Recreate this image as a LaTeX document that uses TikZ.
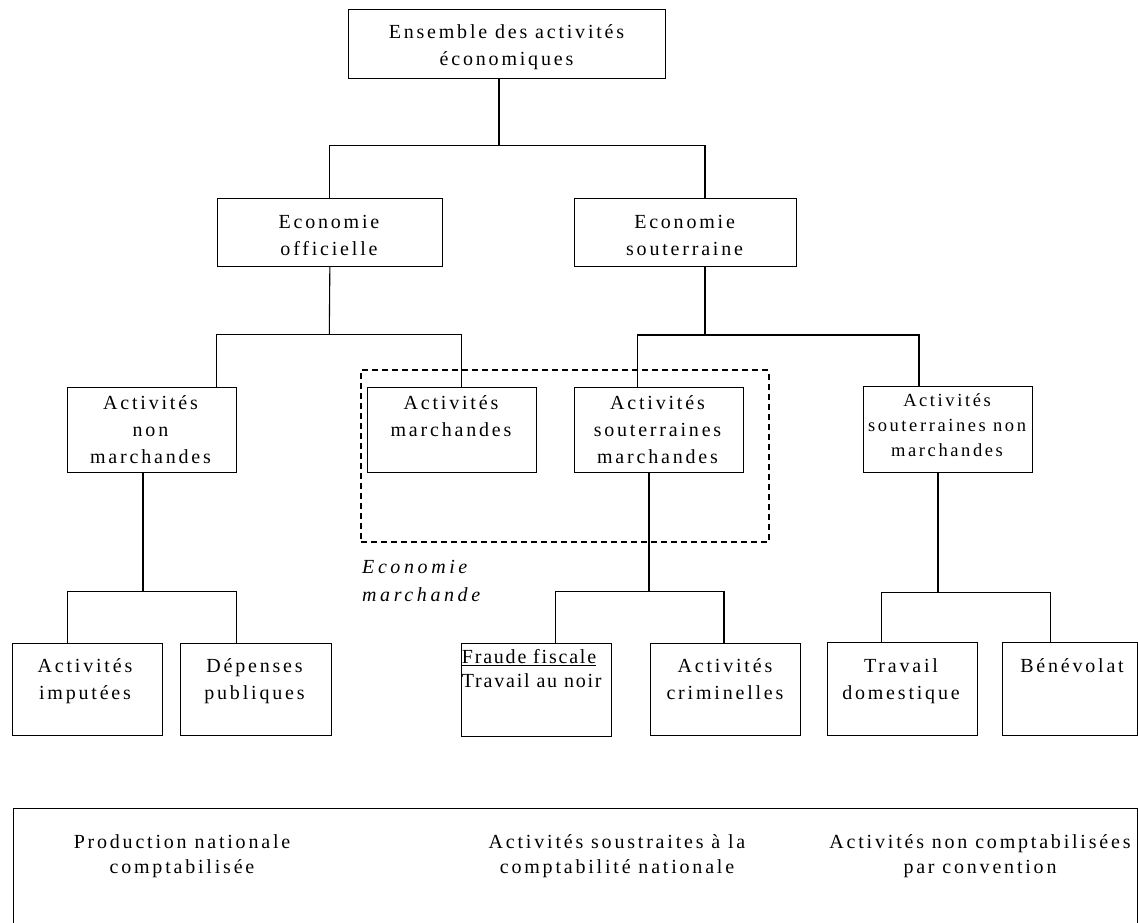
\documentclass[tikz,border=0pt]{standalone}
\usepackage{fontspec}
\setmainfont{Liberation Serif}[LetterSpace=14]
\newfontfamily\tightserif{Liberation Serif}[LetterSpace=9]
\newfontfamily\wideserif{Liberation Serif}[LetterSpace=18]
\newcommand{\tstrut}{\rule{0pt}{20pt}}
% box from corner (x1,y1) to corner (x2,y2), y pointing down
\newcommand{\orgbox}[5]{\node[box, minimum width={#4pt-#2pt}, minimum height={#5pt-#3pt}] (#1) at (#2,#3) {};}
\begin{document}
\begin{tikzpicture}[x=1pt, y=-1pt,
  box/.style={draw, line width=1.1pt, inner sep=0pt, anchor=north west},
  dashbox/.style={draw, line width=1.8pt, dash pattern=on 6pt off 4pt, inner sep=0pt, anchor=north west},
  conn/.style={line width=1.1pt},
  txt/.style={anchor=north, inner sep=0pt, align=center, font=\fontsize{20}{27}\selectfont},
  smalltxt/.style={txt, font=\fontsize{18.5}{25}\selectfont},
  foot/.style={txt, font=\fontsize{20}{25}\selectfont}]
\useasboundingbox (0,0) rectangle (1138,922);
\clip (0,0) rectangle (1138,922);

% boxes
\orgbox{top}{348}{9}{665}{78}
\orgbox{offi}{216.6}{197.7}{442}{266}
\orgbox{sout}{573.6}{197.7}{795.6}{266}
\orgbox{anm}{66.7}{387}{235.7}{472}
\orgbox{am}{366.7}{386.7}{536}{471.7}
\orgbox{asm}{574}{386.7}{742.7}{471.7}
\orgbox{asnm}{862.7}{386}{1031.7}{472}
\orgbox{imp}{11.5}{642.7}{161.5}{735}
\orgbox{dep}{180}{642.7}{330.5}{735}
\orgbox{fraude}{461}{643}{610.5}{736}
\orgbox{crim}{650}{643}{800}{735}
\orgbox{trav}{826.7}{642.3}{976.7}{734.7}
\orgbox{bene}{1002.3}{642.3}{1137}{734.7}
\orgbox{bilan}{13}{807.7}{1137}{940}

% market economy frame
\node[dashbox, minimum width=407.7pt, minimum height=171.7pt] (mkt) at (360,369.3) {};

% box texts
\node[txt] (tTop) at (506.5,38-20) {\tstrut Ensemble des activités\\économiques};
\node[txt] (tOffi) at (329,228-20) {\tstrut Economie\\officielle};
\node[txt] (tSout) at (684.6,228-20) {\tstrut Economie\\souterraine};
\node[txt] (tAnm) at (150.5,409-20) {\tstrut Activités\\non\\marchandes};
\node[txt] (tAm) at (451,409.3-20) {\tstrut Activités\\marchandes};
\node[txt] (tAsm) at (657.5,409-20) {\tstrut Activités\\souterraines\\marchandes};
\node[smalltxt] (tAsnm) at (947,406.7-20) {\tstrut Activités\\souterraines non\\marchandes};
\node[txt] (tImp) at (85,672.5-20) {\tstrut Activités\\imputées};
\node[txt] (tDep) at (254.5,672-20) {\tstrut Dépenses\\publiques};
\node[anchor=north west, inner sep=0pt, align=left, font=\tightserif\fontsize{20}{24}\selectfont]
  (tFraude) at (461.7,663-20) {\tstrut\underline{Fraude fiscale}\\Travail au noir};
\node[txt] (tCrim) at (725,672-20) {\tstrut Activités\\criminelles};
\node[txt] (tTrav) at (901,672-20) {\tstrut Travail\\domestique};
\node[txt] (tBene) at (1072,672-20) {\tstrut Bénévolat};
\node[anchor=north west, inner sep=0pt, align=left, font=\wideserif\fontsize{20}{28.7}\selectfont\itshape]
  (tMkt) at (362,573-20) {\tstrut Economie\\marchande};

% footer texts
\node[foot] (f1) at (182,848-20) {\tstrut Production nationale\\comptabilisée};
\node[foot] (f2) at (617,848-20) {\tstrut Activités soustraites à la\\comptabilité nationale};
\node[foot] (f3) at (980,848-20) {\tstrut Activités non comptabilisées\\par convention};

% tree connectors
\coordinate (j0) at (499,145.7);
\draw[conn] ([xshift=151pt]top.south west) -- (j0);
\draw[conn] (offi.north) |- (j0);
\draw[conn] ([xshift=131.4pt]sout.north west) |- (j0);

\coordinate (j1) at (329.3,334.5);
\draw[conn] (offi.south) -- (j1);
\draw[conn] ([xshift=150pt]anm.north west) |- (j1);
\draw[conn] ([xshift=95pt]am.north west) |- (j1);

\coordinate (j2) at (705,335);
\draw[conn] ([xshift=131.4pt]sout.south west) -- (j2);
\draw[conn] ([xshift=63.5pt]asm.north west) |- (j2);
\draw[conn] ([xshift=56.3pt]asnm.north west) |- (j2);

\coordinate (j3) at (143,591.7);
\draw[conn] ([xshift=76.3pt]anm.south west) -- (j3);
\draw[conn] ([xshift=56.2pt]imp.north west) |- (j3);
\draw[conn] ([xshift=56.7pt]dep.north west) |- (j3);

\coordinate (j4) at (649,591.7);
\draw[conn] ([xshift=75pt]asm.south west) -- (j4);
\draw[conn] ([xshift=94.7pt]fraude.north west) |- (j4);
\draw[conn] ([xshift=74pt]crim.north west) |- (j4);

\coordinate (j5) at (938,592.7);
\draw[conn] ([xshift=75.3pt]asnm.south west) -- (j5);
\draw[conn] ([xshift=55pt]trav.north west) |- (j5);
\draw[conn] ([xshift=48.2pt]bene.north west) |- (j5);
\end{tikzpicture}
\end{document}
